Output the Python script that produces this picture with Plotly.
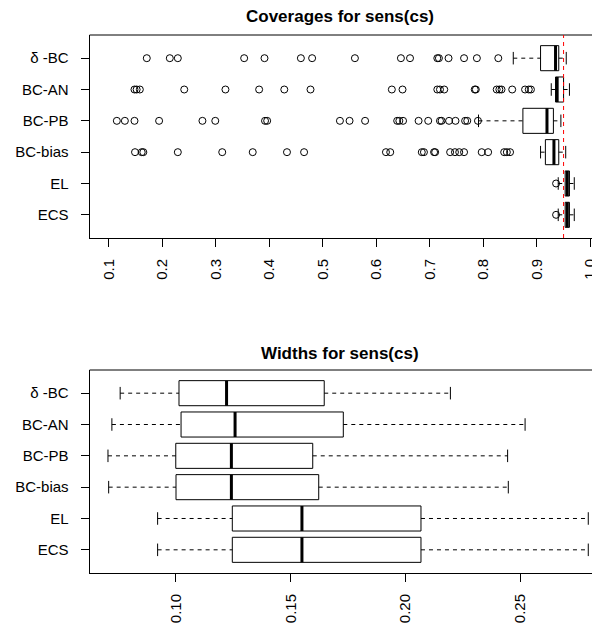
import plotly.graph_objects as go

categories = ["δ -BC", "BC-AN", "BC-PB", "BC-bias", "EL", "ECS"]
positions = [6, 5, 4, 3, 2, 1]

# Coverages (top panel)
cov_lower = [0.856, 0.927, 0.791, 0.907, 0.940, 0.940]
cov_q1 = [0.907, 0.935, 0.874, 0.916, 0.953, 0.953]
cov_median = [0.935, 0.938, 0.919, 0.932, 0.957, 0.957]
cov_q3 = [0.941, 0.950, 0.931, 0.941, 0.961, 0.961]
cov_upper = [0.955, 0.961, 0.945, 0.954, 0.970, 0.970]
cov_outliers = [
    [0.171, 0.214, 0.229, 0.353, 0.391, 0.459, 0.480, 0.560, 0.646, 0.663,
     0.714, 0.717, 0.735, 0.764, 0.788, 0.828],
    [0.148, 0.152, 0.158, 0.241, 0.318, 0.381, 0.428, 0.477, 0.629, 0.649,
     0.714, 0.719, 0.727, 0.784, 0.786, 0.825, 0.830, 0.834, 0.854, 0.878,
     0.885, 0.889],
    [0.115, 0.130, 0.148, 0.194, 0.275, 0.299, 0.392, 0.396, 0.532, 0.550,
     0.579, 0.639, 0.643, 0.650, 0.679, 0.697, 0.719, 0.722, 0.736, 0.748,
     0.766, 0.770, 0.790],
    [0.149, 0.1615, 0.1645, 0.229, 0.312, 0.369, 0.433, 0.465, 0.618, 0.626,
     0.685, 0.689, 0.708, 0.710, 0.738, 0.747, 0.755, 0.764, 0.797, 0.809,
     0.839, 0.844, 0.850],
    [0.936],
    [0.936],
]
nominal_level = 0.95

# Widths (bottom panel)
w_lower = [0.0758, 0.0722, 0.0705, 0.0708, 0.0921, 0.0921]
w_q1 = [0.1014, 0.1023, 0.1000, 0.1001, 0.1246, 0.1246]
w_median = [0.1221, 0.1258, 0.1242, 0.1242, 0.1549, 0.1549]
w_q3 = [0.1646, 0.1729, 0.1596, 0.1622, 0.2067, 0.2067]
w_upper = [0.2195, 0.2520, 0.2444, 0.2447, 0.2795, 0.2795]

top_ticks = [0.1, 0.2, 0.3, 0.4, 0.5, 0.6, 0.7, 0.8, 0.9, 1.0]
top_ticklabels = ["0.1", "0.2", "0.3", "0.4", "0.5", "0.6", "0.7", "0.8", "0.9", "1.0"]
bot_ticks = [0.10, 0.15, 0.20, 0.25]
bot_ticklabels = ["0.10", "0.15", "0.20", "0.25"]

FONT = "Liberation Sans, Arial, Helvetica, sans-serif"
HW = 0.4   # half box width (boxwex 0.8)
SW = 0.2   # half staple width

# page body adds an 8px offset; figure is sized to fit the window
OFF = 8
W = 600 - OFF
H = 623 - OFF

fig = go.Figure()


def add_boxes(lower, q1, med, q3, upper, xa, ya):
    wx, wy, sx, sy, mx, my = [], [], [], [], [], []
    for p, lo, a, m, b, hi in zip(positions, lower, q1, med, q3, upper):
        fig.add_trace(go.Scatter(
            x=[a, b, b, a, a], y=[p - HW, p - HW, p + HW, p + HW, p - HW],
            mode="lines", fill="toself", fillcolor="white",
            line=dict(color="black", width=1), xaxis=xa, yaxis=ya,
            showlegend=False, hoverinfo="skip"))
        wx += [lo, a, None, b, hi, None]
        wy += [p, p, None, p, p, None]
        sx += [lo, lo, None, hi, hi, None]
        sy += [p - SW, p + SW, None, p - SW, p + SW, None]
        mx += [m, m, None]
        my += [p - HW, p + HW, None]
    fig.add_trace(go.Scatter(x=wx, y=wy, mode="lines",
                             line=dict(color="black", width=1, dash="4px,4px"),
                             xaxis=xa, yaxis=ya, showlegend=False, hoverinfo="skip"))
    fig.add_trace(go.Scatter(x=sx, y=sy, mode="lines",
                             line=dict(color="black", width=1),
                             xaxis=xa, yaxis=ya, showlegend=False, hoverinfo="skip"))
    fig.add_trace(go.Scatter(x=mx, y=my, mode="lines",
                             line=dict(color="black", width=3),
                             xaxis=xa, yaxis=ya, showlegend=False, hoverinfo="skip"))


# Top panel
add_boxes(cov_lower, cov_q1, cov_median, cov_q3, cov_upper, "x", "y")
ox, oy = [], []
for p, outs in zip(positions, cov_outliers):
    ox += outs
    oy += [p] * len(outs)
fig.add_trace(go.Scatter(x=ox, y=oy, mode="markers",
                         marker=dict(symbol="circle-open", size=7,
                                     line=dict(color="black", width=1), color="black"),
                         xaxis="x", yaxis="y", showlegend=False))

# Bottom panel
add_boxes(w_lower, w_q1, w_median, w_q3, w_upper, "x2", "y2")

tickfont = dict(family=FONT, size=15, color="black")
common_x = dict(showgrid=False, zeroline=False, showline=True, linecolor="black",
                linewidth=1, ticks="outside", ticklen=8, tickcolor="black",
                tickangle=-90, tickfont=tickfont, ticklabelstandoff=6,
                domain=[(89.6 - OFF) / W, 1.0])
common_y = dict(showgrid=False, zeroline=False, showline=True, linecolor="black",
                linewidth=1, ticks="outside", ticklen=8, tickcolor="black",
                tickfont=tickfont, range=[0.26, 6.74],
                tickvals=positions, ticktext=categories, ticklabelstandoff=9)


def ydom(top, bottom):
    return [1 - (bottom - OFF) / H, 1 - (top - OFF) / H]


fig.update_layout(
    width=W, height=H,
    margin=dict(l=0, r=0, t=0, b=0),
    paper_bgcolor="white", plot_bgcolor="white",
    xaxis=dict(common_x, range=[0.0641, 1.0181], tickvals=top_ticks,
               ticktext=top_ticklabels, anchor="y"),
    yaxis=dict(common_y, domain=ydom(35, 238), anchor="x"),
    xaxis2=dict(common_x, range=[0.0625, 0.2846], tickvals=bot_ticks,
                ticktext=bot_ticklabels, anchor="y2"),
    yaxis2=dict(common_y, domain=ydom(370, 573), anchor="x2"),
    shapes=[
        dict(type="line", xref="x domain", yref="y domain", x0=0, x1=1.2, y0=1, y1=1,
             line=dict(color="black", width=1)),
        dict(type="line", xref="x2 domain", yref="y2 domain", x0=0, x1=1.2, y0=1, y1=1,
             line=dict(color="black", width=1)),
        dict(type="line", xref="x", yref="y domain", x0=nominal_level, x1=nominal_level,
             y0=0, y1=1, line=dict(color="red", width=1, dash="4px,4px")),
    ],
    annotations=[
        dict(text="<b>Coverages for sens(cs)</b>", xref="paper", yref="paper",
             x=(340 - OFF) / W, y=1 - (16.5 - OFF) / H, xanchor="center", yanchor="middle",
             showarrow=False, font=dict(family=FONT, size=17, color="black")),
        dict(text="<b>Widths for sens(cs)</b>", xref="paper", yref="paper",
             x=(340 - OFF) / W, y=1 - (353.5 - OFF) / H, xanchor="center", yanchor="middle",
             showarrow=False, font=dict(family=FONT, size=17, color="black")),
    ],
)

fig.write_html("out.html")
